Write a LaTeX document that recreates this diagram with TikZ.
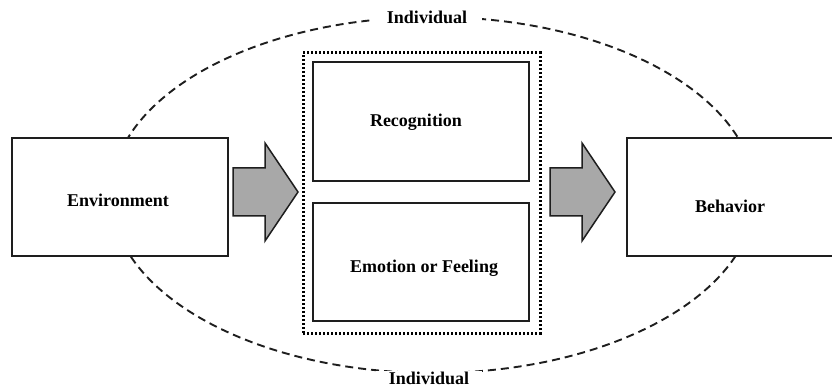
\documentclass[tikz,border=0pt]{standalone}
\usepackage{fontspec}
\setmainfont{Liberation Serif}
\definecolor{inkline}{HTML}{1E1E1E}
\definecolor{arrowgray}{HTML}{A8A8A8}
\begin{document}
\begin{tikzpicture}[x=1pt,y=-1pt,
  box/.style={draw=inkline, line width=2pt, fill=white, inner sep=0pt},
  lbl/.style={font=\fontsize{18}{21}\selectfont\bfseries, text=black},
  dottedframe/.style={draw=black, line width=3pt, dash pattern=on 2pt off 2pt, inner sep=0pt},
  scopeline/.style={draw=inkline, line width=1.9pt, dash pattern=on 8pt off 5pt},
  blockarrow/.pic={
    \draw[draw=inkline, line width=1.5pt, fill=arrowgray, line join=miter]
      (0,-24) -- (32,-24) -- (32,-49) -- (65,0) -- (32,49) -- (32,24) -- (0,24) -- cycle;
  }
]
\useasboundingbox (0,0) rectangle (832,387);

% the individual: dashed ellipse around everything
\coordinate (ctr) at (433,195);
\draw[scopeline] (ctr) ellipse [x radius=322, y radius=178];

% outer boxes
\node[box, minimum width=216pt, minimum height=118pt,
      label={[lbl, xshift=-2pt, yshift=-3pt]center:Environment}] (env) at (120,197) {};
\node[box, minimum width=218pt, minimum height=118pt,
      label={[lbl, xshift=-6pt, yshift=-9pt]center:Behavior}] (beh) at (736,197) {};

% inner process
\node[dottedframe, minimum width=237pt, minimum height=280pt] (inner) at (421.5,193) {};
\node[box, minimum width=216pt, minimum height=119pt,
      label={[lbl, xshift=-5pt, yshift=-1pt]center:Recognition}] (rec) at (421,121.5) {};
\node[box, minimum width=216pt, minimum height=118pt,
      label={[lbl, xshift=3pt, yshift=-6pt]center:Emotion or Feeling}] (emo) at (421,262) {};

% flow arrows
\coordinate (a1) at (233,192);
\coordinate (a2) at (550,192);
\pic at (a1) {blockarrow};
\pic at (a2) {blockarrow};

% ellipse labels
\node[lbl, fill=white, inner xsep=15pt, inner ysep=2pt] (indtop) at (427,17) {Individual};
\node[lbl, fill=white, inner xsep=13pt, inner ysep=1pt] (indbot) at (429,378) {Individual};
\end{tikzpicture}
\end{document}
